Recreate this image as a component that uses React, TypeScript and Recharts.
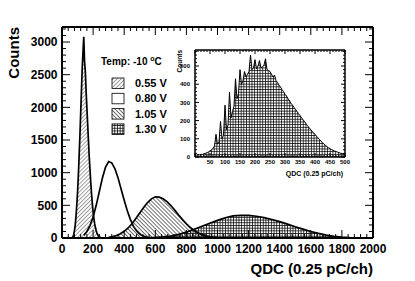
import React from 'react'
import { AreaChart, Area, XAxis, YAxis } from 'recharts'

const FONT = "'Liberation Sans', Arial, Helvetica, sans-serif"

// QDC spectra at -10 C, one array per bias voltage (counts per bin)
const start055 = 60
const step055 = 5
const counts055 = [
  0, 5, 20, 50, 110, 200, 330, 500, 700, 950, 1250, 1550, 1900, 2250, 2600, 2850, 3080,
  2700, 2550, 2250, 2000, 1750, 1500, 1250, 1050, 850, 680, 530, 400, 300, 220, 160, 110,
  75, 50, 30, 18, 10, 0,
]

const start080 = 140
const step080 = 20
const counts080 = [
  40, 100, 190, 320, 500, 710, 920, 1085, 1170, 1150, 1063, 924, 751, 578, 417, 282, 178,
  107, 60, 32, 16, 7, 3, 0,
]

const start105 = 300
const step105 = 25
const counts105 = [
  12, 22, 39, 64, 102, 153, 218, 297, 382, 467, 543, 599, 630, 626, 601, 556, 497, 427,
  352, 282, 216, 160, 115, 79, 52, 33, 21, 12, 7, 4, 0,
]

const start130 = 550
const step130 = 50
const counts130 = [
  5, 10, 18, 30, 55, 90, 135, 180, 225, 270, 310, 338, 348, 345, 333, 312, 283, 250, 212,
  172, 135, 100, 70, 45, 25, 12, 5, 2, 0,
]

// inset: 1.30 V spectrum, zoomed to 0-500
const startInset = 0
const stepInset = 5
const countsInset = [
  12, 10, 14, 12, 15, 14, 18, 20, 24, 28, 34, 40, 48, 60, 125, 70, 82, 195, 100, 120, 285,
  150, 175, 355, 215, 250, 280, 430, 320, 350, 480, 400, 420, 470, 440, 455, 470, 560, 480,
  490, 535, 485, 500, 530, 490, 495, 505, 540, 480, 475, 470, 455, 440, 450, 420, 410, 395,
  385, 370, 360, 345, 335, 320, 310, 295, 285, 272, 262, 250, 238, 228, 217, 205, 195, 183,
  172, 162, 152, 142, 133, 124, 114, 105, 96, 87, 79, 71, 64, 57, 51, 46, 41, 37, 33, 30,
  27, 24, 21, 19, 17, 15,
]

const legendLabels = ['0.55 V', '0.80 V', '1.05 V', '1.30 V']
const legendFills = ['url(#lg055)', '#fff', 'url(#lg105)', 'url(#lg130)']

const xMajor = [0, 200, 400, 600, 800, 1000, 1200, 1400, 1600, 1800, 2000]
const yMajor = [0, 500, 1000, 1500, 2000, 2500, 3000]
const insetXMajor = [0, 50, 100, 150, 200, 250, 300, 350, 400, 450, 500]
const insetYMajor = [0, 100, 200, 300, 400, 500]

const withMinor = (major: number[], step: number, max: number) => {
  const out: number[] = []
  for (let v = major[0]; v <= max + 1e-9; v += step) out.push(v)
  return out
}
const xTicks = withMinor(xMajor, 40, 2000)
const yTicks = withMinor(yMajor, 100, 3200)
const insetXTicks = withMinor(insetXMajor, 10, 500)
const insetYTicks = withMinor(insetYMajor, 20, 580)

const series = [
  { key: 'v055', start: start055, step: step055, counts: counts055 },
  { key: 'v080', start: start080, step: step080, counts: counts080 },
  { key: 'v105', start: start105, step: step105, counts: counts105 },
  { key: 'v130', start: start130, step: step130, counts: counts130 },
]

const rows = new Map<number, any>()
series.forEach(s =>
  s.counts.forEach((c, i) => {
    const x = s.start + i * s.step
    const r = rows.get(x) ?? { x }
    r[s.key] = c
    rows.set(x, r)
  })
)
const mainData = [...rows.values()].sort((a, b) => a.x - b.x)
const insetData = countsInset.map((c, i) => ({ x: startInset + i * stepInset, c }))

function Patterns({ p }: { p: string }) {
  return (
    <defs>
      <pattern id={p + '055'} width="2.8" height="2.8" patternUnits="userSpaceOnUse" patternTransform="rotate(45)">
        <line x1="1.4" y1="0" x2="1.4" y2="2.8" stroke="#777" strokeWidth="0.7" />
      </pattern>
      <pattern id={p + '105'} width="2.8" height="2.8" patternUnits="userSpaceOnUse" patternTransform="rotate(-45)">
        <line x1="1.4" y1="0" x2="1.4" y2="2.8" stroke="#333" strokeWidth="0.7" />
      </pattern>
      <pattern id={p + '130'} width="2.7" height="2.7" patternUnits="userSpaceOnUse">
        <path d="M0 1.35H2.7M1.35 0V2.7" stroke="#000" strokeWidth="0.75" />
      </pattern>
    </defs>
  )
}

// ROOT-style ticks drawn inside the frame
const makeTick = (side: 'bottom' | 'top' | 'left' | 'right', major: number[], len: number, fs: number, gap: number, hideZero = false) =>
  (props: any) => {
    const { x, y, payload } = props
    const v = payload.value
    const isMajor = major.includes(v)
    const l = isMajor ? len : len / 2
    let line
    if (side === 'bottom') line = <line x1={x} x2={x} y1={y} y2={y - l} stroke="#000" />
    else if (side === 'top') line = <line x1={x} x2={x} y1={y} y2={y + l} stroke="#000" />
    else if (side === 'left') line = <line x1={x} x2={x + l} y1={y} y2={y} stroke="#000" />
    else line = <line x1={x} x2={x - l} y1={y} y2={y} stroke="#000" />
    let label = null
    if (isMajor && !(hideZero && v === 0)) {
      if (side === 'bottom')
        label = <text x={x} y={y + gap} textAnchor="middle" fontSize={fs} fontWeight="bold" fontFamily={FONT}>{v}</text>
      if (side === 'left')
        label = <text x={x - gap} y={y + fs * 0.36} textAnchor="end" fontSize={fs} fontWeight="bold" fontFamily={FONT}>{v}</text>
    }
    return <g>{line}{label}</g>
  }

const frame = { stroke: '#000', strokeWidth: 2 }
const insetFrame = { stroke: '#000', strokeWidth: 1.5 }

export default function App() {
  return (
    <div style={{ position: 'absolute', left: 0, top: 0, width: 415, height: 281, background: '#fff' }}>
      <AreaChart width={415} height={281} data={mainData} margin={{ top: 26, right: 41, bottom: 42, left: 61 }}>
        <Patterns p="h" />
        <XAxis dataKey="x" type="number" domain={[0, 2000]} allowDataOverflow ticks={xTicks} interval={0}
          height={1} tickSize={0} tickMargin={0} axisLine={frame} tick={makeTick('bottom', xMajor, 8, 12, 14.5)} />
        <XAxis xAxisId="top" orientation="top" dataKey="x" type="number" domain={[0, 2000]} allowDataOverflow ticks={xTicks}
          interval={0} height={1} tickSize={0} tickMargin={0} axisLine={frame} tick={makeTick('top', xMajor, 8, 12, 0)} />
        <YAxis type="number" domain={[0, 3230]} allowDataOverflow ticks={yTicks} interval={0} width={1}
          tickSize={0} tickMargin={0} axisLine={frame} tick={makeTick('left', yMajor, 8, 12, 4.5)} />
        <YAxis yAxisId="right" orientation="right" type="number" domain={[0, 3230]} allowDataOverflow ticks={yTicks}
          interval={0} width={1} tickSize={0} tickMargin={0} axisLine={frame} tick={makeTick('right', yMajor, 8, 12, 0)} />
        <Area dataKey="v055" type="linear" stroke="#000" strokeWidth={1.7} fill="url(#h055)" fillOpacity={1}
          connectNulls dot={false} activeDot={false} isAnimationActive={false} />
        <Area dataKey="v080" type="linear" stroke="#000" strokeWidth={1.7} fill="none"
          connectNulls dot={false} activeDot={false} isAnimationActive={false} />
        <Area dataKey="v105" type="linear" stroke="#000" strokeWidth={1.7} fill="url(#h105)" fillOpacity={1}
          connectNulls dot={false} activeDot={false} isAnimationActive={false} />
        <Area dataKey="v130" type="linear" stroke="#000" strokeWidth={1.7} fill="url(#h130)" fillOpacity={1}
          connectNulls dot={false} activeDot={false} isAnimationActive={false} />
      </AreaChart>

      <div style={{ position: 'absolute', left: 175, top: 45 }}>
        <AreaChart width={180} height={135} data={insetData} margin={{ top: 4, right: 9, bottom: 22, left: 19 }}>
          <Patterns p="i" />
          <XAxis dataKey="x" type="number" domain={[0, 500]} allowDataOverflow ticks={insetXTicks} interval={0}
            height={1} tickSize={0} tickMargin={0} axisLine={insetFrame}
            tick={makeTick('bottom', insetXMajor, 4, 6, 7, true)} />
          <XAxis xAxisId="top" orientation="top" dataKey="x" type="number" domain={[0, 500]} allowDataOverflow ticks={insetXTicks}
            interval={0} height={1} tickSize={0} tickMargin={0} axisLine={insetFrame}
            tick={makeTick('top', insetXMajor, 4, 6, 0)} />
          <YAxis type="number" domain={[0, 588]} allowDataOverflow ticks={insetYTicks} interval={0} width={1}
            tickSize={0} tickMargin={0} axisLine={insetFrame}
            tick={makeTick('left', insetYMajor, 4, 6, 5)} />
          <YAxis yAxisId="right" orientation="right" type="number" domain={[0, 588]} allowDataOverflow ticks={insetYTicks}
            interval={0} width={1} tickSize={0} tickMargin={0} axisLine={insetFrame}
            tick={makeTick('right', insetYMajor, 4, 6, 0)} />
          <Area dataKey="c" type="linear" stroke="#000" strokeWidth={1} fill="url(#i130)" fillOpacity={1}
            dot={false} activeDot={false} isAnimationActive={false} />
        </AreaChart>
      </div>

      <svg width={415} height={281} style={{ position: 'absolute', left: 0, top: 0, pointerEvents: 'none' }}
        fontFamily={FONT} fontWeight="bold">
        <Patterns p="lg" />
        <text transform="translate(18.5,27) rotate(-90)" textAnchor="end" fontSize={15}>Counts</text>
        <text x={373} y={273.5} textAnchor="end" fontSize={15}>QDC (0.25 pC/ch)</text>
        <text transform="translate(182,50) rotate(-90)" textAnchor="end" fontSize={6.5}>Counts</text>
        <text x={343} y={175.5} textAnchor="end" fontSize={7}>QDC (0.25 pC/ch)</text>
        <text x={101} y={64.5} fontSize={10}>
          Temp: -10 <tspan fontSize={7} dy={-4}>o</tspan><tspan dy={4}>C</tspan>
        </text>
        {legendLabels.map((l, i) => (
          <g key={l}>
            <rect x={112} y={78 + i * 15.3} width={12} height={10.5} fill={legendFills[i]} stroke="#000" strokeWidth={0.8} />
            <text x={135} y={87 + i * 15.3} fontSize={11}>{l}</text>
          </g>
        ))}
      </svg>
    </div>
  )
}
